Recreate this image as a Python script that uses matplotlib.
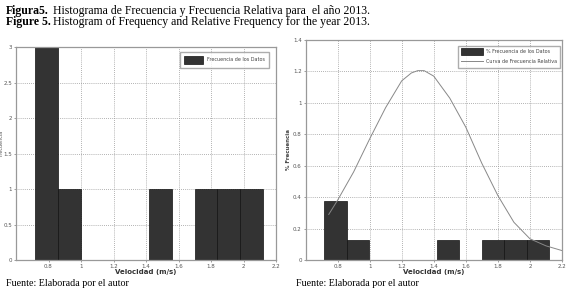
import matplotlib
matplotlib.use("Agg")
import matplotlib.pyplot as plt
import numpy as np

# Data
bin_edges = [0.717, 0.857, 0.997, 1.138, 1.278, 1.418, 1.558, 1.699, 1.839, 1.979, 2.119]
counts = [3, 1, 0, 0, 0, 1, 0, 1, 1, 1]
rel_freq = [c / 8 for c in counts]
curve_x = [0.745, 0.80, 0.90, 1.00, 1.10, 1.20, 1.26, 1.30, 1.34, 1.40, 1.50, 1.60, 1.70, 1.80, 1.90, 2.00, 2.10, 2.20]
curve_y = [0.29, 0.38, 0.56, 0.77, 0.97, 1.14, 1.19, 1.205, 1.205, 1.17, 1.03, 0.845, 0.615, 0.41, 0.24, 0.135, 0.09, 0.06]
xticks = [0.8, 1.0, 1.2, 1.4, 1.6, 1.8, 2.0, 2.2]
xtick_labels = ["0.8", "1", "1.2", "1.4", "1.6", "1.8", "2", "2.2"]
yticks_left = [0, 0.5, 1, 1.5, 2, 2.5, 3]
ytick_labels_left = ["0", "0.5", "1", "1.5", "2", "2.5", "3"]
yticks_right = [0, 0.2, 0.4, 0.6, 0.8, 1.0, 1.2, 1.4]
ytick_labels_right = ["0", "0.2", "0.4", "0.6", "0.8", "1", "1.2", "1.4"]

W, H = 567, 294
fig = plt.figure(figsize=(W / 100, H / 100), dpi=100)
fig.patch.set_facecolor("white")

serif = ["Liberation Serif", "DejaVu Serif"]
fs_cap = 8.5
fig.text(6 / W, 1 - 14 / H, "Figura5.", fontsize=fs_cap, family=serif, weight="bold", va="baseline")
fig.text(53 / W, 1 - 14 / H, "Histograma de Frecuencia y Frecuencia Relativa para  el año 2013.",
         fontsize=fs_cap, family=serif, va="baseline")
fig.text(6 / W, 1 - 25.5 / H, "Figure 5.", fontsize=fs_cap, family=serif, weight="bold", va="baseline")
fig.text(53 / W, 1 - 25.5 / H, "Histogram of Frequency and Relative Frequency for the year 2013.",
         fontsize=fs_cap, family=serif, va="baseline")
fig.text(6 / W, 1 - 286 / H, "Fuente: Elaborada por el autor", fontsize=7.2, family=serif, va="baseline")
fig.text(296 / W, 1 - 286 / H, "Fuente: Elaborada por el autor", fontsize=7.2, family=serif, va="baseline")

widths = np.diff(bin_edges)
lefts = bin_edges[:-1]


def style(ax, yt, ytl, ylim):
    ax.set_xlim(0.6, 2.2)
    ax.set_ylim(*ylim)
    ax.set_xticks(xticks)
    ax.set_xticklabels(xtick_labels)
    ax.set_yticks(yt)
    ax.set_yticklabels(ytl)
    ax.tick_params(labelsize=4, colors="#555555", length=1.5, width=0.4, pad=1.2)
    ax.grid(True, linestyle=(0, (1, 1.5)), color="#999999", linewidth=0.6)
    ax.set_axisbelow(True)
    for s in ax.spines.values():
        s.set_color("#999999")
        s.set_linewidth(0.9)
    ax.set_xlabel("Velocidad (m/s)", fontsize=5, weight="bold", color="#333333", labelpad=0)


# left axes: pixel frame x 16..276, y 47.3..260
l1, r1, t1, b1 = 16, 276, 47.3, 260
ax1 = fig.add_axes([l1 / W, 1 - b1 / H, (r1 - l1) / W, (b1 - t1) / H])
ax1.bar(lefts, counts, width=widths, align="edge", color="#333333", edgecolor="#111111",
        linewidth=0.5, label="Frecuencia de los Datos", zorder=2)
style(ax1, yticks_left, ytick_labels_left, (0, 3))
ax1.set_ylabel("Frecuencia", fontsize=3.5, color="#555555")
ax1.yaxis.set_label_coords((3.5 - l1) / (r1 - l1), 0.55)
ax1.legend(loc="upper right", bbox_to_anchor=((269 - l1) / (r1 - l1), (b1 - 52) / (b1 - t1)),
           borderaxespad=0, fontsize=3.5, frameon=True,
           fancybox=False, edgecolor="#999999", handlelength=4, handleheight=2.2,
           borderpad=0.8, labelcolor="#444444")

# right axes: pixel frame x 305.5..562, y 40..260
l2, r2, t2, b2 = 305.5, 562, 40, 260
ax2 = fig.add_axes([l2 / W, 1 - b2 / H, (r2 - l2) / W, (b2 - t2) / H])
ax2.bar(lefts, rel_freq, width=widths, align="edge", color="#333333", edgecolor="#111111",
        linewidth=0.5, label="% Frecuencia de los Datos", zorder=2)
ax2.plot(curve_x, curve_y, color="#888888", linewidth=0.7, label="Curva de Frecuencia Relativa", zorder=3)
style(ax2, yticks_right, ytick_labels_right, (0, 1.4))
ax2.set_ylabel("% Frecuencia", fontsize=4, weight="bold", color="#444444")
ax2.yaxis.set_label_coords((291 - l2) / (r2 - l2), 0.5)
h, lab = ax2.get_legend_handles_labels()
order = [lab.index("% Frecuencia de los Datos"), lab.index("Curva de Frecuencia Relativa")]
ax2.legend([h[i] for i in order], [lab[i] for i in order],
           loc="upper right", bbox_to_anchor=((560 - l2) / (r2 - l2), (b2 - 46) / (b2 - t2)),
           borderaxespad=0, fontsize=3.5, frameon=True,
           fancybox=False, edgecolor="#999999", handlelength=4.5, handleheight=1.8,
           borderpad=0.5, labelspacing=0.6, labelcolor="#444444")

fig.savefig("out.png", dpi=100, facecolor="white")
